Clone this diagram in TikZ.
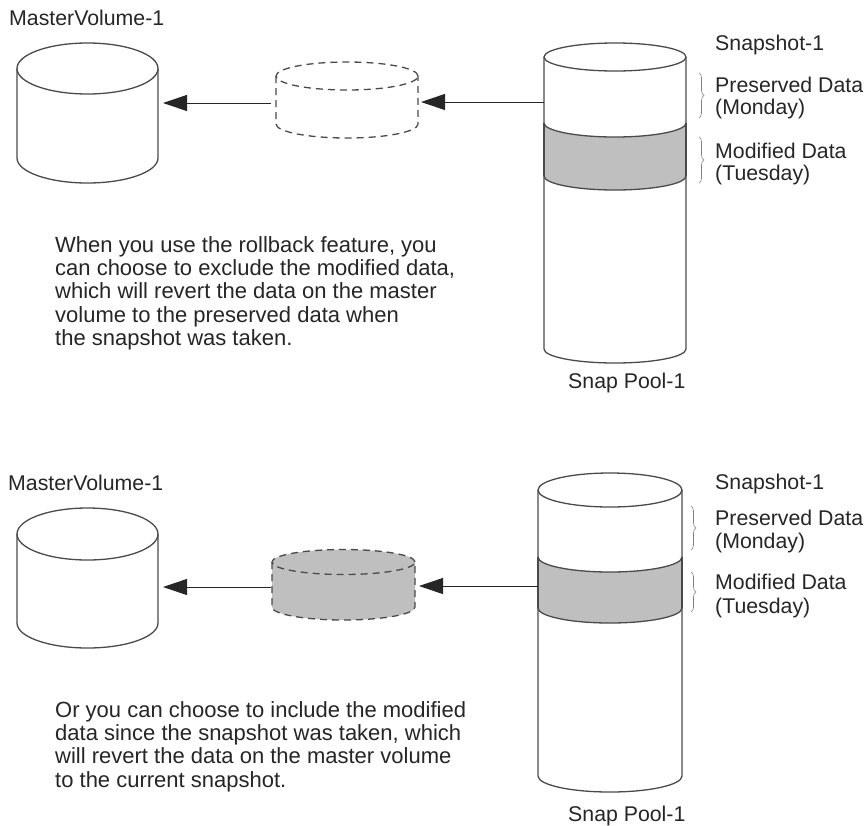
\documentclass[tikz,border=0pt]{standalone}
\usepackage{fontspec}
\setmainfont{Liberation Sans}
\usetikzlibrary{arrows.meta,decorations.pathreplacing}
\definecolor{edge}{HTML}{4A4A4A}
\definecolor{bandgray}{HTML}{BFBFBF}
\definecolor{ink}{HTML}{262626}
\tikzset{
  cylline/.style={draw=edge, line width=1.3pt},
  dashline/.style={draw=edge, line width=1.3pt, dash pattern=on 7pt off 5pt},
  arr/.style={draw=black!85, line width=1pt, -{Triangle[length=24pt,width=16pt]}},
  lbl/.style={font=\fontsize{21.3}{22.5}\selectfont, text=ink, inner sep=0pt, anchor=base west},
  body/.style={font=\fontsize{22}{23.3}\selectfont, text=ink, inner sep=0pt, anchor=north west, align=left},
  brc/.style={draw=gray, line width=0.6pt, decorate, decoration={brace, amplitude=5pt}},
}
% #1 line style, #2 fill, #3 cx, #4 rx, #5 top cy, #6 bottom cy, #7 ry top, #8 ry bottom
\newcommand\mycyl[8]{%
  \path[fill=#2] ({#3-#4},#5) -- ({#3-#4},#6)
     arc[start angle=180,end angle=360,x radius=#4,y radius=#8]
     -- ({#3+#4},#5)
     arc[start angle=0,end angle=180,x radius=#4,y radius=#7] -- cycle;
  \draw[#1] ({#3-#4},#5) -- ({#3-#4},#6)
     arc[start angle=180,end angle=360,x radius=#4,y radius=#8]
     -- ({#3+#4},#5);
  \draw[#1] (#3,#5) ellipse[x radius=#4, y radius=#7];
}
% band: #1 cx, #2 rx, #3 upper cy, #4 lower cy, #5 ry
\newcommand\myband[5]{%
  \path[fill=bandgray] ({#1-#2},#3)
     arc[start angle=180,end angle=360,x radius=#2,y radius=#5]
     -- ({#1+#2},#4)
     arc[start angle=360,end angle=180,x radius=#2,y radius=#5] -- cycle;
  \draw[cylline] ({#1-#2},#3) arc[start angle=180,end angle=360,x radius=#2,y radius=#5];
  \draw[cylline] ({#1-#2},#4) arc[start angle=180,end angle=360,x radius=#2,y radius=#5];
  \draw[cylline] ({#1-#2},#3) -- ({#1-#2},#4) ({#1+#2},#3) -- ({#1+#2},#4);
}
\begin{document}
\begin{tikzpicture}[x=1pt,y=1pt]
\useasboundingbox[fill=white] (0,0) rectangle (866,-825);

% ---------- top panel ----------
\node[lbl] (mvlab1) at (9,-25) {MasterVolume-1};
\mycyl{cylline}{white}{87.5}{70.5}{-68.5}{-158}{25.5}{25}
\mycyl{dashline}{white}{347}{71}{-76}{-124}{14}{14}
\mycyl{cylline}{white}{615}{71}{-57}{-349}{14}{14}
\myband{615}{71}{-123}{-176}{14}
\coordinate (mv1e) at (163,-103);
\coordinate (d1w) at (271,-103);
\coordinate (d1e) at (421,-102);
\coordinate (sp1w) at (544,-102);
\draw[arr] (d1w) -- (mv1e);
\draw[arr] (sp1w) -- (d1e);

\node[lbl] (snap1) at (715,-50) {Snapshot-1};
\node[lbl] (pres1a) at (715,-92) {Preserved Data};
\node[lbl] (pres1b) at (715,-114.5) {(Monday)};
\node[lbl] (mod1a) at (715,-158) {Modified Data};
\node[lbl] (mod1b) at (715,-180) {(Tuesday)};
\draw[brc] (699,-73) -- (699,-118);
\draw[brc] (699,-137) -- (699,-183);
\node[lbl] (pool1) at (568,-388) {Snap Pool-1};

\node[body] (txt1) at (55,-236) {When you use the rollback feature, you\\can choose to exclude the modified data,\\which will revert the data on the master\\volume to the preserved data when\\the snapshot was taken.};

% ---------- bottom panel ----------
\node[lbl] (mvlab2) at (8,-490) {MasterVolume-1};
\mycyl{cylline}{white}{87.5}{70.5}{-534}{-623}{26}{25}
\mycyl{dashline}{bandgray}{343.5}{71.5}{-562}{-607}{12.5}{13}
\mycyl{cylline}{white}{610}{72}{-490}{-776}{17}{16}
\myband{610}{72}{-557}{-608}{15}
\coordinate (mv2e) at (163,-587);
\coordinate (d2w) at (271,-587);
\coordinate (d2e) at (419,-586);
\coordinate (sp2w) at (538,-586);
\draw[arr] (d2w) -- (mv2e);
\draw[arr] (sp2w) -- (d2e);

\node[lbl] (snap2) at (715,-489) {Snapshot-1};
\node[lbl] (pres2a) at (715,-525) {Preserved Data};
\node[lbl] (pres2b) at (715,-548) {(Monday)};
\node[lbl] (mod2a) at (715,-589) {Modified Data};
\node[lbl] (mod2b) at (715,-613) {(Tuesday)};
\draw[brc] (691,-506) -- (691,-550);
\draw[brc] (691,-572) -- (691,-612);
\node[lbl] (pool2) at (568,-821) {Snap Pool-1};

\node[body] (txt2) at (55,-701) {Or you can choose to include the modified\\data since the snapshot was taken, which\\will revert the data on the master volume\\to the current snapshot.};
\end{tikzpicture}
\end{document}
